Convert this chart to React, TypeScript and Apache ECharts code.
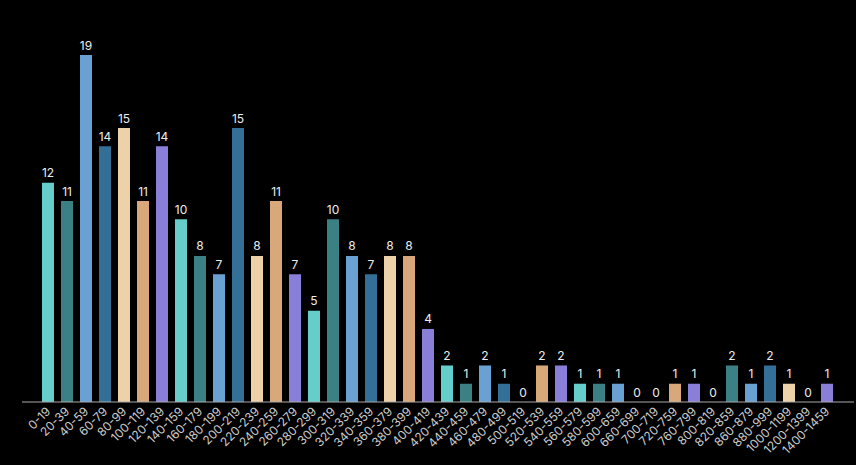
import React, { useEffect, useRef } from "react";
import * as echarts from "echarts";

const categories = [
  "0-19", "20-39", "40-59", "60-79", "80-99", "100-119", "120-139", "140-159", "160-179", "180-199",
  "200-219", "220-239", "240-259", "260-279", "280-299", "300-319", "320-339", "340-359", "360-379", "380-399",
  "400-419", "420-439", "440-459", "460-479", "480-499", "500-519", "520-539", "540-559", "560-579", "580-599",
  "600-659", "660-699", "700-719", "720-759", "760-799", "800-819", "820-859", "860-879", "880-999", "1000-1199",
  "1200-1399", "1400-1459",
];

const counts = [
  12, 11, 19, 14, 15, 11, 14, 10, 8, 7,
  15, 8, 11, 7, 5, 10, 8, 7, 8, 8,
  4, 2, 1, 2, 1, 0, 2, 2, 1, 1,
  1, 0, 0, 1, 1, 0, 2, 1, 2, 1,
  0, 1,
];

const palette = ["#66ceca", "#3b8085", "#6aa1d3", "#336f96", "#edd1a8", "#d9a87a", "#8a7fd8"];

export default function App() {
  const ref = useRef<HTMLDivElement>(null);
  useEffect(() => {
    if (!ref.current) return;
    const chart = echarts.init(ref.current, null, { renderer: "svg" });
    chart.setOption({
      animation: false,
      backgroundColor: "#000000",
      textStyle: { fontFamily: "Inter" },
      grid: { left: 38.5, right: 19.5, top: 55, bottom: 63, containLabel: false },
      xAxis: {
        type: "category",
        data: categories,
        axisLine: { show: false },
        axisTick: { show: false },
        axisLabel: {
          interval: 0,
          rotate: 45,
          color: "#cccccc",
          fontSize: 12,
          fontFamily: "Inter",
          margin: 7,
        },
      },
      yAxis: {
        type: "value",
        min: 0,
        max: 19,
        show: false,
        splitLine: { show: false },
      },
      graphic: [
        {
          type: "line",
          shape: { x1: 22, y1: 402, x2: 854, y2: 402 },
          style: { stroke: "#aaaaaa", lineWidth: 1 },
          z: 10,
        },
      ],
      series: [
        {
          type: "bar",
          data: counts.map((v, i) => ({ value: v, itemStyle: { color: palette[i % palette.length] } })),
          barWidth: 12,
          label: {
            show: true,
            position: "top",
            distance: 4,
            color: "#eeeeee",
            fontSize: 12,
            fontFamily: "Inter",
          },
        },
      ],
    });
    return () => chart.dispose();
  }, []);
  return <div ref={ref} style={{ width: 856, height: 465, position: "absolute", left: 0, top: 0 }} />;
}
